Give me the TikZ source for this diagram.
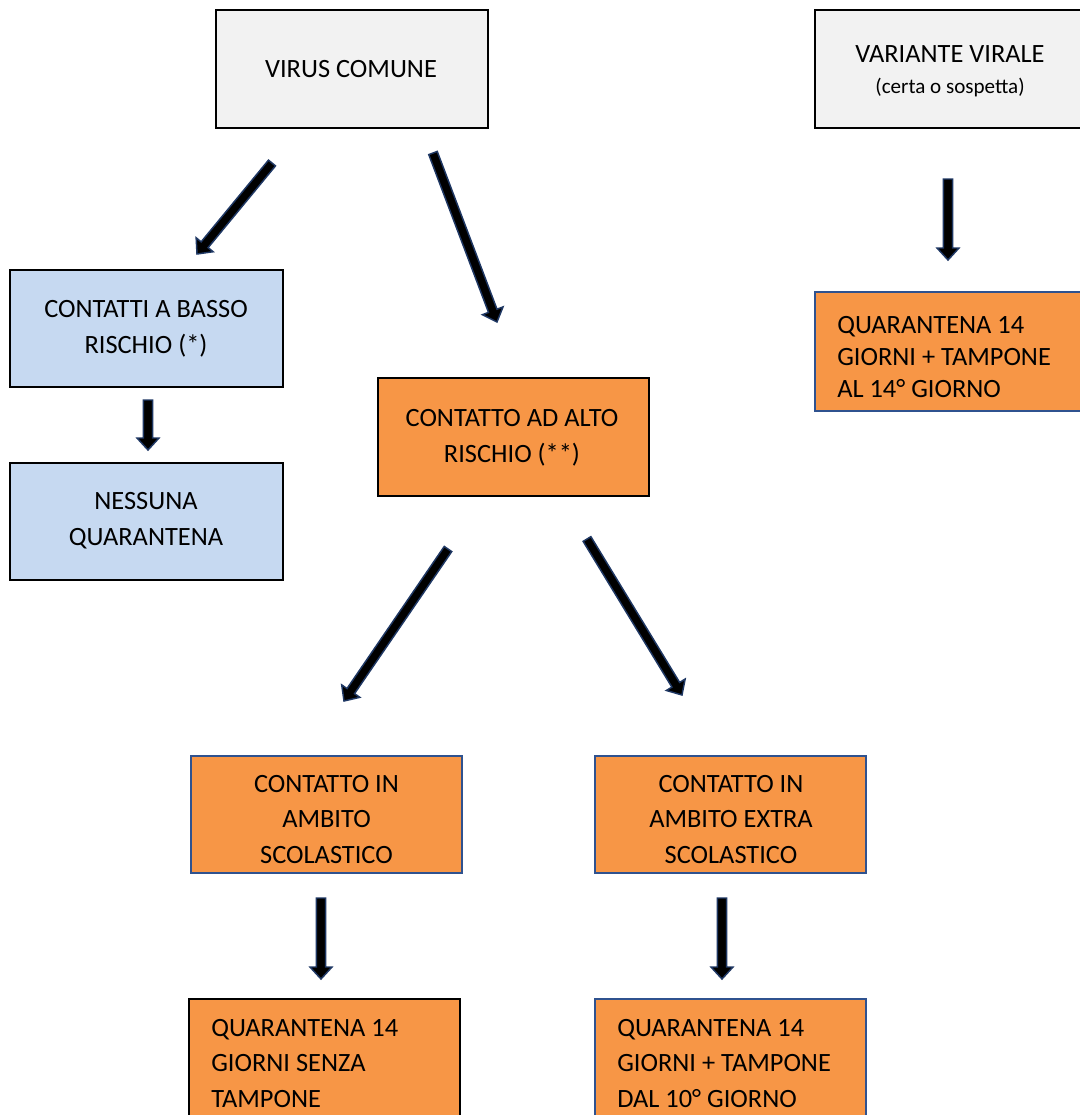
\documentclass[tikz,border=0pt]{standalone}
\usepackage{fontspec}
\setmainfont{Carlito}
\usetikzlibrary{calc}
\definecolor{boxgrey}{HTML}{F2F2F2}
\definecolor{boxblue}{HTML}{C6D9F1}
\definecolor{boxorange}{HTML}{F79646}
\definecolor{edgeblue}{HTML}{2F528F}
\definecolor{arrowedge}{HTML}{1F3864}
\tikzset{
  boxwh/.style 2 args={rectangle, inner sep=0pt, line width=1.5pt,
    minimum width=#1*0.75pt, minimum height=#2*0.75pt},
  greybox/.style={fill=boxgrey, draw=black},
  bluebox/.style={fill=boxblue, draw=black},
  orangebox/.style={fill=boxorange, draw=black},
  orangeblue/.style={fill=boxorange, draw=edgeblue},
  centertext/.style={align=center, inner sep=0pt, text=black,
    font=\fontsize{19.8}{27}\selectfont},
  lefttext/.style={align=left, inner sep=0pt, anchor=west, text=black,
    font=\fontsize{19.8}{26.6}\selectfont},
  blockarrowstyle/.style={fill=black, draw=arrowedge, line width=1.1pt, line join=miter}
}
\newcommand{\blockarrow}[3]{%
  \coordinate (#1h) at ($(#3)!9pt!(#2)$);
  \draw[blockarrowstyle] ($(#2)!3.4pt!90:(#3)$) -- ($(#1h)!3.4pt!90:(#3)$)
    -- ($(#1h)!8.25pt!90:(#3)$) -- (#3) -- ($(#1h)!8.25pt!-90:(#3)$)
    -- ($(#1h)!3.4pt!-90:(#3)$) -- ($(#2)!3.4pt!-90:(#3)$) -- cycle;
}
\begin{document}
\begin{tikzpicture}[x=0.75pt,y=-0.75pt]
\useasboundingbox (0,0) rectangle (1080,1115);
\clip (0,0) rectangle (1080,1115);
\fill[white] (0,0) rectangle (1080,1115);

% boxes
\node[boxwh={272}{118}, greybox]   (vc) at (352,69) {};
\node[boxwh={270}{118}, greybox]   (vv) at (950,69) {};
\node[boxwh={270}{119}, orangeblue] (q1) at (950,351.5) {};
\node[boxwh={273}{117}, bluebox]   (cb) at (146.5,328.5) {};
\node[boxwh={273}{117}, bluebox]   (nq) at (146.5,521.5) {};
\node[boxwh={271}{118}, orangebox] (ca) at (513,437) {};
\node[boxwh={271}{117}, orangeblue] (cs) at (326.5,814.5) {};
\node[boxwh={271}{117}, orangeblue] (ce) at (730.5,814.5) {};
\node[boxwh={271}{130}, orangebox] (q2) at (324.5,1064) {};
\node[boxwh={271}{130}, orangeblue] (q3) at (730.5,1064) {};

% texts
\node[centertext] (tvc) at (351,69) {VIRUS COMUNE};
\node[centertext, font=\fontsize{19.8}{23}\selectfont] (tvv) at (950,71)
  {VARIANTE VIRALE\\{\fontsize{15.8}{19}\selectfont (certa o sospetta)}};
\node[lefttext, font=\fontsize{19.8}{24}\selectfont] (tq1) at (837,357)
  {QUARANTENA 14\\GIORNI + TAMPONE\\AL 14° GIORNO};
\node[centertext] (tcb) at (146,329) {CONTATTI A BASSO\\RISCHIO (*)};
\node[centertext] (tnq) at (146,521) {NESSUNA\\QUARANTENA};
\node[centertext] (tca) at (512,437.5) {CONTATTO AD ALTO\\RISCHIO (**)};
\node[centertext, font=\fontsize{19.8}{26.6}\selectfont] (tcs) at (326.5,819.5)
  {CONTATTO IN\\AMBITO\\SCOLASTICO};
\node[centertext, font=\fontsize{19.8}{26.6}\selectfont] (tce) at (731,819.5)
  {CONTATTO IN\\AMBITO EXTRA\\SCOLASTICO};
\node[lefttext] (tq2) at (211,1063.5) {QUARANTENA 14\\GIORNI SENZA\\TAMPONE};
\node[lefttext] (tq3) at (617,1063.5) {QUARANTENA 14\\GIORNI + TAMPONE\\DAL 10° GIORNO};

% arrow end points
\coordinate (a1s) at (272,163); \coordinate (a1e) at (197,254);
\coordinate (a2s) at (433,153); \coordinate (a2e) at (497,322);
\coordinate (a3s) at (948,179); \coordinate (a3e) at (948,260);
\coordinate (a4s) at (148,400); \coordinate (a4e) at (148,450);
\coordinate (a5s) at (448,549); \coordinate (a5e) at (344,701);
\coordinate (a6s) at (587,539); \coordinate (a6e) at (682,695);
\coordinate (a7s) at (321,898); \coordinate (a7e) at (321,979);
\coordinate (a8s) at (722,898); \coordinate (a8e) at (722,979);

\blockarrow{a1}{a1s}{a1e}
\blockarrow{a2}{a2s}{a2e}
\blockarrow{a3}{a3s}{a3e}
\blockarrow{a4}{a4s}{a4e}
\blockarrow{a5}{a5s}{a5e}
\blockarrow{a6}{a6s}{a6e}
\blockarrow{a7}{a7s}{a7e}
\blockarrow{a8}{a8s}{a8e}
\end{tikzpicture}
\end{document}
